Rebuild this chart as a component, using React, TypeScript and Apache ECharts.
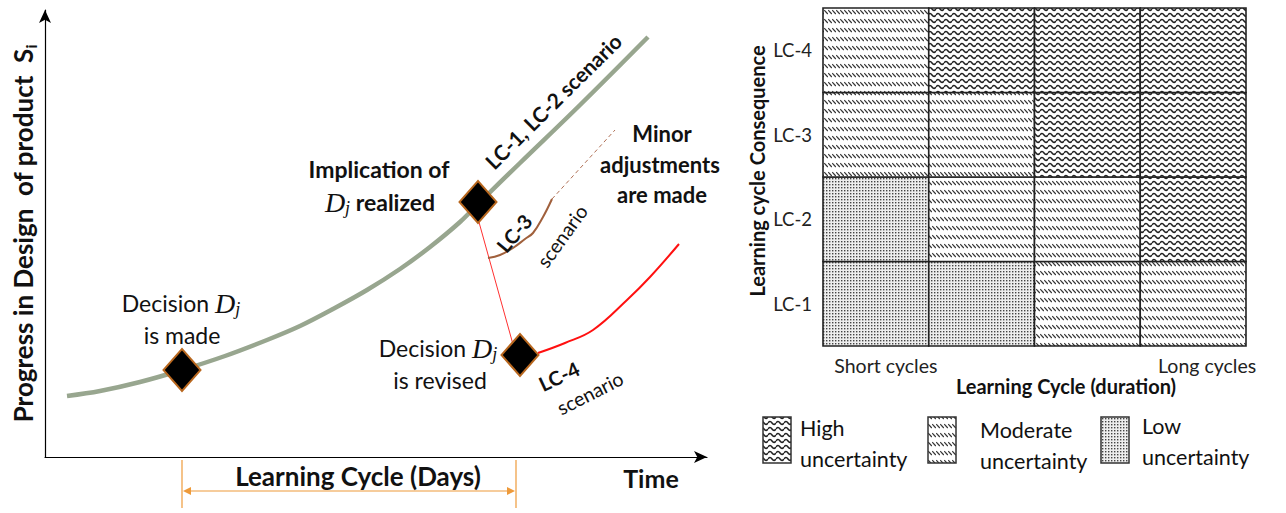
import React, { useEffect, useRef } from 'react';
import * as echarts from 'echarts';

// ---------- Left panel: progress curves (axis units, conceptual) ----------
const progressCurve: number[][] = [
  [22, 61], [55, 66], [95, 75], [137, 87], [180, 101], [222, 117], [255, 131],
  [288, 148], [322, 167], [355, 188], [385, 210], [415, 235], [433, 253],
  [475, 294], [535, 352], [603, 420],
];
const decisionPoints: number[][] = [[137, 87], [433, 255], [475, 102]];
const revisionLink: number[][] = [[432, 242], [469, 109]];
const lc3Curve: number[][] = [[443, 199], [455, 202], [468, 209], [480, 218], [488, 224], [498, 240], [507, 258]];
const minorAdjust: number[][] = [[507, 258], [570, 327]];
const lc4Curve: number[][] = [[493, 104], [520, 114], [548, 127], [582, 157], [605, 180], [634, 213]];

// ---------- Right panel: uncertainty matrix ----------
const durationCats = ['Short cycles', ' ', '  ', 'Long cycles'];
const consequenceCats = ['LC-1', 'LC-2', 'LC-3', 'LC-4'];
const uncertaintyLevels = ['High', 'Moderate', 'Low'];
const uncertaintyGrid: string[][] = [
  ['Low', 'Low', 'Moderate', 'Moderate'], // LC-1
  ['Low', 'Moderate', 'Moderate', 'High'], // LC-2
  ['Moderate', 'Moderate', 'High', 'High'], // LC-3
  ['Moderate', 'High', 'High', 'High'], // LC-4
];

const FONT = 'Lato';

function svgPattern(svg: string, w: number, h: number) {
  return {
    image: 'data:image/svg+xml;charset=utf-8,' + encodeURIComponent(svg),
    repeat: 'repeat',
    imageWidth: w,
    imageHeight: h,
  } as any;
}

const patterns: Record<string, any> = {
  High: svgPattern(
    "<svg xmlns='http://www.w3.org/2000/svg' width='8' height='6'><rect width='8' height='6' fill='#fff'/><path d='M0 3 Q2 0.2 4 3 T8 3' fill='none' stroke='#222' stroke-width='1.5'/></svg>",
    8, 6
  ),
  Moderate: svgPattern(
    "<svg xmlns='http://www.w3.org/2000/svg' width='4' height='9'><rect width='4' height='9' fill='#fff'/><path d='M0.2 1.2 L3.8 5' fill='none' stroke='#333' stroke-width='1.2'/></svg>",
    4, 9
  ),
  Low: svgPattern(
    "<svg xmlns='http://www.w3.org/2000/svg' width='3' height='3'><rect width='3' height='3' fill='#eee'/><rect x='1' y='1' width='1.4' height='1.4' fill='#444'/></svg>",
    3, 3
  ),
};

const djRich = (size: number, weight: string) => ({
  t: { fontFamily: FONT, fontSize: size, fontWeight: weight, color: '#111', lineHeight: 30 },
  d: { fontFamily: 'Liberation Serif', fontStyle: 'italic', fontSize: size + 5, color: '#111', lineHeight: 30 },
  j: { fontFamily: 'Liberation Serif', fontStyle: 'italic', fontSize: size - 5, color: '#111', lineHeight: 20, verticalAlign: 'bottom' },
});

function txt(text: string, x: number, y: number, opts: any = {}) {
  return {
    type: 'text',
    x,
    y,
    rotation: opts.rotation || 0,
    z: 100,
    style: {
      text,
      fontFamily: FONT,
      fontSize: opts.fontSize || 23,
      fontWeight: opts.fontWeight || 'normal',
      fill: opts.fill || '#111',
      align: opts.align || 'center',
      verticalAlign: 'middle',
      rich: opts.rich,
    },
  };
}

export default function App() {
  const ref = useRef<HTMLDivElement>(null);
  useEffect(() => {
    document.body.style.margin = '0';
    const chart = echarts.init(ref.current!, undefined, { renderer: 'svg' });

    const cellData: number[][] = [];
    uncertaintyGrid.forEach((row, r) =>
      row.forEach((lvl, c) => cellData.push([c, r, uncertaintyLevels.indexOf(lvl)]))
    );

    const orange = '#EE9A3A';
    const legendItems = [
      { lvl: 'High', bx: 763, tx: 800, y1: 428, y2: 459 },
      { lvl: 'Moderate', bx: 928, tx: 980, y1: 430, y2: 461 },
      { lvl: 'Low', bx: 1101, tx: 1142, y1: 426, y2: 457 },
    ];

    const graphics: any[] = [
      txt('LC-1, LC-2 scenario', 553, 101, { fontWeight: 'bold', fontSize: 21, rotation: 0.78 }),
      txt('Implication of', 379, 169, { fontWeight: 'bold' }),
      txt('{d|D}{j|j}{t| realized}', 380, 202, { rich: djRich(23, 'bold') }),
      txt('Minor', 662, 133, { fontWeight: 'bold', fontSize: 22 }),
      txt('adjustments', 660, 164, { fontWeight: 'bold', fontSize: 22 }),
      txt('are made', 662, 194, { fontWeight: 'bold', fontSize: 22 }),
      txt('{t|Decision }{d|D}{j|j}', 181, 303, { rich: djRich(23, 'normal') }),
      txt('is made', 182, 335),
      txt('{t|Decision }{d|D}{j|j}', 438, 348, { rich: djRich(23, 'normal') }),
      txt('is revised', 440, 380),
      txt('LC-3', 514, 233, { fontWeight: 'bold', fontSize: 20, rotation: 0.87 }),
      txt('scenario', 562, 236, { fontSize: 19.5, rotation: 0.95 }),
      txt('LC-4', 559, 376, { fontWeight: 'bold', fontSize: 20, rotation: 0.44 }),
      txt('scenario', 590, 393, { fontSize: 19.5, rotation: 0.47 }),
      txt('Learning Cycle (Days)', 358, 476, { fontWeight: 'bold', fontSize: 26 }),
      txt('Time', 651, 478, { fontWeight: 'bold', fontSize: 25 }),
      // learning-cycle bracket
      { type: 'line', shape: { x1: 182, y1: 460, x2: 182, y2: 508 }, style: { stroke: orange, lineWidth: 1.2 } },
      { type: 'line', shape: { x1: 516, y1: 460, x2: 516, y2: 508 }, style: { stroke: orange, lineWidth: 1.2 } },
      { type: 'line', shape: { x1: 186, y1: 491, x2: 512, y2: 491 }, style: { stroke: orange, lineWidth: 1.2 } },
      { type: 'polygon', shape: { points: [[183, 491], [191, 487], [191, 495]] }, style: { fill: orange } },
      { type: 'polygon', shape: { points: [[515, 491], [507, 487], [507, 495]] }, style: { fill: orange } },
      txt('Learning Cycle (duration)', 1066, 386, { fontWeight: 'bold', fontSize: 20 }),
      txt('Learning cycle Consequence', 757, 171, { fontWeight: 'bold', fontSize: 20, rotation: Math.PI / 2 }),
    ];
    legendItems.forEach((it) => {
      graphics.push({
        type: 'rect',
        shape: { x: it.bx, y: 417, width: 28, height: 46 },
        style: { fill: patterns[it.lvl], stroke: '#333', lineWidth: 1.5 },
      });
      graphics.push(txt(it.lvl, it.tx, it.y1, { align: 'left', fontSize: 21.5 }));
      graphics.push(txt('uncertainty', it.tx, it.y2, { align: 'left', fontSize: 21.5 }));
    });

    chart.setOption({
      animation: false,
      backgroundColor: '#fff',
      grid: [
        { left: 45, top: 10, width: 662, height: 447 },
        { left: 823, top: 8, width: 423, height: 338 },
      ],
      xAxis: [
        {
          type: 'value', gridIndex: 0, min: 0, max: 662,
          axisLine: { show: true, onZero: false, symbol: ['none', 'arrow'], symbolSize: [9, 13], lineStyle: { color: '#000', width: 1.2 } },
          axisTick: { show: false }, axisLabel: { show: false }, splitLine: { show: false },
        },
        {
          type: 'category', gridIndex: 1, data: durationCats,
          axisLine: { show: false }, axisTick: { show: false }, splitLine: { show: false },
          axisLabel: {
            interval: 0,
            margin: 9,
            formatter: (v: string, i: number) => (i === 0 ? `{s|${v}}` : i === durationCats.length - 1 ? `{l|${v}}` : ''),
            rich: {
              s: { fontFamily: FONT, fontSize: 19.5, color: '#222', padding: [0, 0, 0, 20] },
              l: { fontFamily: FONT, fontSize: 19.5, color: '#222', padding: [0, 0, 0, 28] },
            },
          },
        },
      ],
      yAxis: [
        {
          type: 'value', gridIndex: 0, min: 0, max: 447,
          axisLine: { show: true, onZero: false, symbol: ['none', 'arrow'], symbolSize: [9, 13], lineStyle: { color: '#000', width: 1.2 } },
          axisTick: { show: false }, axisLabel: { show: false }, splitLine: { show: false },
          name: '{a|Progress in Design  of product  S}{s|i}',
          nameLocation: 'middle', nameRotate: 90, nameGap: 7,
          nameTextStyle: {
            rich: {
              a: { fontFamily: FONT, fontWeight: 'bold', fontSize: 26, color: '#111', lineHeight: 30 },
              s: { fontFamily: FONT, fontWeight: 'bold', fontSize: 16, color: '#111', lineHeight: 20, verticalAlign: 'bottom' },
            },
          },
        },
        {
          type: 'category', gridIndex: 1, data: consequenceCats,
          axisLine: { show: false }, axisTick: { show: false }, splitLine: { show: false },
          axisLabel: { margin: 11, fontFamily: FONT, fontSize: 18.5, color: '#222' },
        },
      ],
      series: [
        {
          name: 'LC-1, LC-2 scenario', type: 'line', xAxisIndex: 0, yAxisIndex: 0, data: progressCurve,
          smooth: 0.35, showSymbol: false, lineStyle: { color: '#98A68F', width: 4.5 }, z: 2,
        },
        {
          name: 'revision', type: 'line', xAxisIndex: 0, yAxisIndex: 0, data: revisionLink,
          showSymbol: false, lineStyle: { color: '#FF3030', width: 1 }, z: 2,
        },
        {
          name: 'LC-3 scenario', type: 'line', xAxisIndex: 0, yAxisIndex: 0, data: lc3Curve,
          smooth: 0.4, showSymbol: false, lineStyle: { color: '#A0603C', width: 2 }, z: 2,
        },
        {
          name: 'Minor adjustments', type: 'line', xAxisIndex: 0, yAxisIndex: 0, data: minorAdjust,
          showSymbol: false, lineStyle: { color: '#B07055', width: 1, type: [4, 3] }, z: 2,
        },
        {
          name: 'LC-4 scenario', type: 'line', xAxisIndex: 0, yAxisIndex: 0, data: lc4Curve,
          smooth: 0.4, showSymbol: false, lineStyle: { color: '#FF1010', width: 2 }, z: 2,
        },
        {
          name: 'Decisions', type: 'scatter', xAxisIndex: 0, yAxisIndex: 0, data: decisionPoints,
          symbol: 'diamond', symbolSize: [37, 42],
          itemStyle: { color: '#000', borderColor: '#B8671E', borderWidth: 2, opacity: 1 }, z: 5,
        },
        {
          name: 'Uncertainty', type: 'custom', xAxisIndex: 1, yAxisIndex: 1, data: cellData,
          renderItem: (params: any, api: any) => {
            const c = api.coord([api.value(0), api.value(1)]);
            const s = api.size([1, 1]);
            const lvl = uncertaintyLevels[api.value(2)];
            return {
              type: 'rect',
              shape: { x: c[0] - s[0] / 2, y: c[1] - s[1] / 2, width: s[0], height: s[1] },
              style: { fill: patterns[lvl], stroke: '#222', lineWidth: 1.6 },
            };
          },
        },
      ],
      graphic: graphics,
    });
    return () => chart.dispose();
  }, []);
  return <div ref={ref} style={{ width: 1286, height: 513 }} />;
}
